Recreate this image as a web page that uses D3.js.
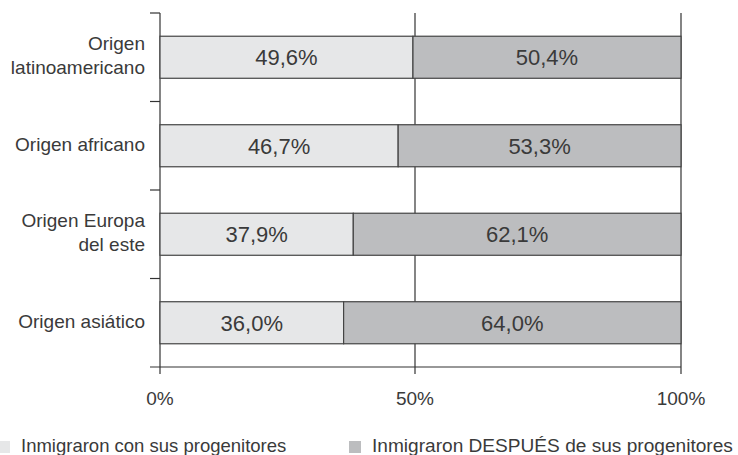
<!DOCTYPE html>
<html><head><meta charset="utf-8">
<script src="https://cdn.jsdelivr.net/npm/d3@7"></script>
<style>body{margin:0;background:#fff}svg{display:block;font-family:"Liberation Sans",Arial,sans-serif}</style>
</head><body><svg id="c" width="738" height="455"></svg>
<script>
const categories = [["Origen","latinoamericano"],["Origen africano"],["Origen Europa","del este"],["Origen asiático"]];
const withParents = [49.6, 46.7, 37.9, 36.0];
const afterParents = [50.4, 53.3, 62.1, 64.0];
const valueLabels1 = ["49,6%","46,7%","37,9%","36,0%"];
const valueLabels2 = ["50,4%","53,3%","62,1%","64,0%"];
const xTicks = [0, 50, 100];
const xTickLabels = ["0%","50%","100%"];
const seriesNames = ["Inmigraron con sus progenitores","Inmigraron DESPUÉS de sus progenitores"];
const colors = ["#e6e7e8","#bcbdbf"];

const svg = d3.select("#c");
const x = d3.scaleLinear().domain([0,50,100]).range([160,415,681]);
const keys = categories.map((d,i)=>i);
const y = d3.scaleBand().domain(keys).range([13,367]).paddingInner(0.525).paddingOuter(0.2625);
const txt = "#3a3a3a";

svg.selectAll("line.grid").data(xTicks).join("line")
  .attr("x1",d=>x(d)).attr("x2",d=>x(d)).attr("y1",13).attr("y2",374)
  .attr("stroke","#333").attr("stroke-width",1.2);

const bounds = keys.map(k=>y(k)-y.step()*y.paddingInner()/2);
bounds[0]=13;
svg.selectAll("line.tk").data(bounds).join("line")
  .attr("x1",150).attr("x2",160).attr("y1",d=>d).attr("y2",d=>d)
  .attr("stroke","#333").attr("stroke-width",1.2);
svg.append("line").attr("x1",150).attr("x2",x(100)).attr("y1",367).attr("y2",367)
  .attr("stroke","#333").attr("stroke-width",1.2);

const g = svg.append("g");
keys.forEach(i=>{
  const y0 = y(i), h = y.bandwidth();
  const segs = [[0, withParents[i], colors[0], valueLabels1[i]],
                [withParents[i], withParents[i]+afterParents[i], colors[1], valueLabels2[i]]];
  segs.forEach(s=>{
    g.append("rect").attr("x",x(s[0])).attr("y",y0).attr("width",x(s[1])-x(s[0])).attr("height",h)
      .attr("fill",s[2]).attr("stroke","#444").attr("stroke-width",1.2);
    g.append("text").attr("x",(x(s[0])+x(s[1]))/2).attr("y",y0+h/2+8)
      .attr("text-anchor","middle").attr("font-size",22).attr("fill",txt).text(s[3]);
  });
});

keys.forEach(i=>{
  const lines = categories[i];
  const cy = y(i)+y.bandwidth()/2;
  const lh = 24;
  const t = svg.append("text").attr("text-anchor","end").attr("font-size",19).attr("fill",txt);
  lines.forEach((l,j)=>{
    t.append("tspan").attr("x",145).attr("y",cy+5+(j-(lines.length-1)/2)*lh).text(l);
  });
});

svg.selectAll("text.xl").data(xTicks).join("text")
  .attr("x",d=>x(d)).attr("y",405).attr("text-anchor","middle")
  .attr("font-size",19).attr("fill",txt).text((d,i)=>xTickLabels[i]);

const legX = [-2, 349];
const legSize = [18.5, 19.1];
seriesNames.forEach((n,i)=>{
  svg.append("rect").attr("x",legX[i]).attr("y",441).attr("width",12).attr("height",12).attr("fill",colors[i]);
  svg.append("text").attr("x",legX[i]+23).attr("y",452).attr("font-size",legSize[i]).attr("fill",txt).text(n);
});
</script></body></html>
